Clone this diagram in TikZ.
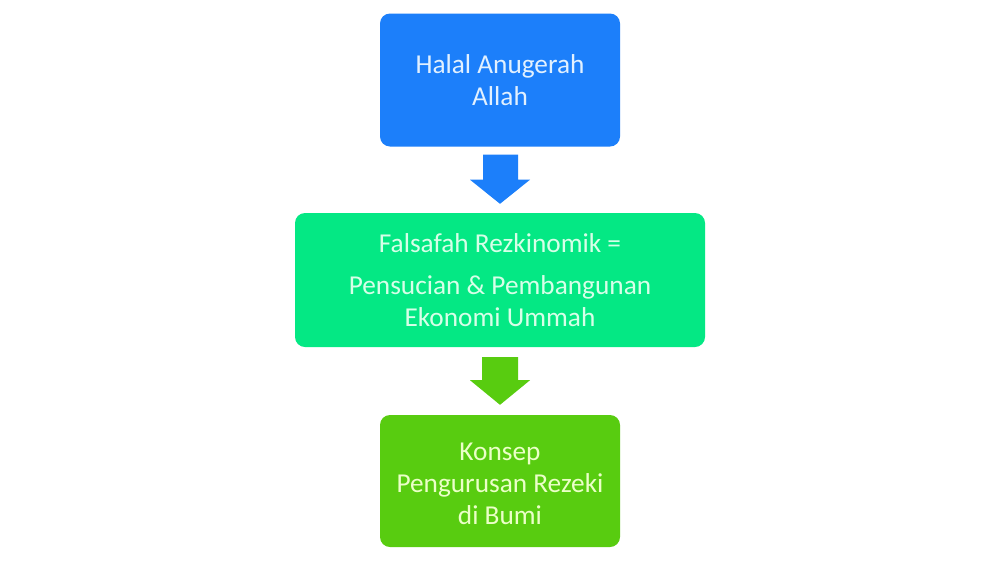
\documentclass[tikz,border=0pt]{standalone}
\usepackage{fontspec}
\setmainfont{Carlito}
\usetikzlibrary{calc}
\definecolor{bluebox}{RGB}{28,127,250}
\definecolor{mintbox}{RGB}{4,232,132}
\definecolor{leafbox}{RGB}{88,204,16}
\definecolor{bluetext}{RGB}{225,240,255}
\definecolor{minttext}{RGB}{215,255,232}
\definecolor{leaftext}{RGB}{235,255,200}
\tikzset{
  stepbox/.style={rounded corners=10pt, inner sep=0pt, align=center,
    font=\fontsize{27.3}{32}\selectfont},
  steptext/.style={inner sep=0pt, align=center, font=\fontsize{27.3}{32}\selectfont}
}
\begin{document}
\begin{tikzpicture}[x=1pt,y=-1pt]
\fill[white] (0,0) rectangle (1000,563);
\useasboundingbox (0,0) rectangle (1000,563);
\node[stepbox, fill=bluebox, text=bluetext, minimum width=240pt, minimum height=133pt] (top) at (500,80) {Halal Anugerah\\Allah};
\node[stepbox, fill=mintbox, text=minttext, minimum width=410pt, minimum height=134pt] (mid) at (500,280) {Falsafah Rezkinomik =\\[10pt]Pensucian \& Pembangunan\\Ekonomi Ummah};
\node[stepbox, fill=leafbox, minimum width=240pt, minimum height=132pt] (bot) at (500,481) {};
\node[steptext, text=leaftext] (bottext) at ($(bot.center)+(0,3)$) {Konsep\\Pengurusan Rezeki\\di Bumi};
% block arrow 1
\fill[bluebox] ($(top.south)+(-17,8)$) -- ($(top.south)+(18,8)$) -- ($(top.south)+(18,33)$) -- ($(top.south)+(30,33)$) -- ($(mid.north)+(0,-9)$) -- ($(top.south)+(-30,33)$) -- ($(top.south)+(-17,33)$) -- cycle;
% block arrow 2
\fill[leafbox] ($(mid.south)+(-18,10)$) -- ($(mid.south)+(18,10)$) -- ($(mid.south)+(18,33)$) -- ($(mid.south)+(30,33)$) -- ($(bot.north)+(0,-10)$) -- ($(mid.south)+(-30,33)$) -- ($(mid.south)+(-18,33)$) -- cycle;
\end{tikzpicture}
\end{document}
